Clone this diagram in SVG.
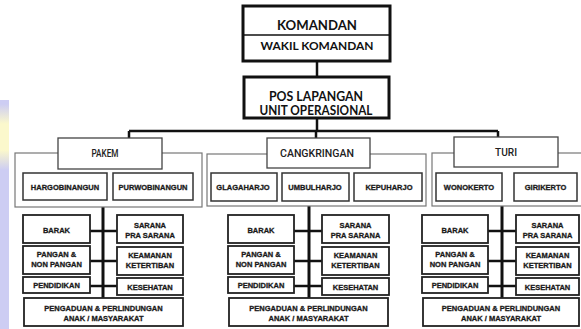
<svg xmlns="http://www.w3.org/2000/svg" width="581" height="329" viewBox="0 0 581 329">
<defs>
<linearGradient id="yel" x1="0" y1="0" x2="0" y2="1">
<stop offset="0" stop-color="#fbf8cc" stop-opacity="0"/>
<stop offset="0.3" stop-color="#fbf8cc"/>
<stop offset="0.7" stop-color="#fbf8cc"/>
<stop offset="1" stop-color="#fbf8cc" stop-opacity="0"/>
</linearGradient>
</defs>
<style>
.top{fill:#fff;stroke:#111;stroke-width:3}
.outer{fill:#fff;stroke:#777;stroke-width:1.2}
.grp{fill:#fff;stroke:#444;stroke-width:1.3}
.vil{fill:#fff;stroke:#333;stroke-width:1.5}
.box{fill:#fff;stroke:#222;stroke-width:1.8}
.t1{font-family:Lato,"Open Sans",sans-serif;font-weight:bold;fill:#111;text-anchor:middle}
.t2{font-family:Roboto,"Noto Sans",sans-serif;font-weight:500;font-size:10px;fill:#222;text-anchor:middle}
.t3{font-family:"Liberation Sans",Arial,sans-serif;font-weight:bold;font-size:7.5px;fill:#1a1a1a;stroke:#1a1a1a;stroke-width:0.3;text-anchor:middle}
.c{stroke:#111;stroke-width:2.5;fill:none}
.cb{stroke:#111;stroke-width:3;fill:none}
</style>
<rect width="581" height="329" fill="#fff"/>
<rect x="0" y="100" width="9" height="229" fill="#cdcdf3"/>
<rect x="0" y="104" width="9" height="66" fill="url(#yel)"/>

<g id="connectors">
<line class="c" x1="317" y1="61" x2="317" y2="77"/>
<line class="c" x1="317" y1="118" x2="317" y2="131"/>
<line class="c" x1="129" y1="131" x2="498" y2="131"/>
<line class="c" x1="129" y1="131" x2="129" y2="138"/>
<line class="c" x1="316" y1="131" x2="316" y2="138"/>
<line class="c" x1="498" y1="131" x2="498" y2="137"/>
<line class="cb" x1="103" y1="207" x2="103" y2="298"/>
<line class="c" x1="90" y1="231" x2="117" y2="231"/>
<line class="c" x1="90" y1="261" x2="117" y2="261"/>
<line class="c" x1="90" y1="286" x2="117" y2="286"/>
<line class="cb" x1="309" y1="206" x2="309" y2="298"/>
<line class="c" x1="294" y1="231" x2="322" y2="231"/>
<line class="c" x1="294" y1="261" x2="322" y2="261"/>
<line class="c" x1="294" y1="286" x2="322" y2="286"/>
<line class="cb" x1="502" y1="206" x2="502" y2="298"/>
<line class="c" x1="488" y1="231" x2="516" y2="231"/>
<line class="c" x1="488" y1="261" x2="516" y2="261"/>
<line class="c" x1="488" y1="286" x2="516" y2="286"/>
</g>

<g id="komandan">
<rect class="top" x="243" y="6" width="147" height="55"/>
<line x1="243" y1="35" x2="390" y2="35" stroke="#111" stroke-width="1.5"/>
<text class="t1" x="317" y="30" font-size="13" textLength="80" lengthAdjust="spacingAndGlyphs">KOMANDAN</text>
<text class="t1" x="317" y="50" font-size="11.5" textLength="113" lengthAdjust="spacingAndGlyphs">WAKIL KOMANDAN</text>
</g>

<g id="pos-lapangan">
<rect class="top" x="244" y="77" width="145" height="41"/>
<text class="t1" x="316" y="101" font-size="12.5" textLength="94" lengthAdjust="spacingAndGlyphs">POS LAPANGAN</text>
<text class="t1" x="316" y="115" font-size="12.5" textLength="113" lengthAdjust="spacingAndGlyphs">UNIT OPERASIONAL</text>
</g>

<!-- PAKEM column -->
<g id="pakem">
<rect class="outer" x="15" y="153" width="187" height="54"/>
<rect class="grp" x="58" y="138" width="104" height="31"/>
<text class="t2" x="105" y="157" textLength="27" lengthAdjust="spacingAndGlyphs">PAKEM</text>
</g>
<g id="hargobinangun">
<rect class="vil" x="23" y="173" width="84" height="27"/>
<text class="t3" x="65" y="190">HARGOBINANGUN</text>
</g>
<g id="purwobinangun">
<rect class="vil" x="113" y="173" width="80" height="27"/>
<text class="t3" x="153" y="190">PURWOBINANGUN</text>
</g>
<g id="pakem-barak"><rect class="box" x="23" y="215" width="67" height="28"/><text class="t3" x="56.5" y="233">BARAK</text></g>
<g id="pakem-sarana"><rect class="box" x="117" y="215" width="66" height="28"/><text class="t3" x="150" y="228">SARANA</text><text class="t3" x="150" y="238">PRA SARANA</text></g>
<g id="pakem-pangan"><rect class="box" x="23" y="246" width="67" height="28"/><text class="t3" x="56.5" y="257">PANGAN &amp;</text><text class="t3" x="56.5" y="267">NON PANGAN</text></g>
<g id="pakem-keamanan"><rect class="box" x="117" y="247" width="66" height="28"/><text class="t3" x="150" y="258">KEAMANAN</text><text class="t3" x="150" y="268">KETERTIBAN</text></g>
<g id="pakem-pendidikan"><rect class="box" x="23" y="277" width="67" height="16"/><text class="t3" x="56.5" y="288">PENDIDIKAN</text></g>
<g id="pakem-kesehatan"><rect class="box" x="117" y="278" width="66" height="17"/><text class="t3" x="150" y="290">KESEHATAN</text></g>
<g id="pakem-pengaduan"><rect class="box" x="24" y="298" width="159" height="28"/><text class="t3" x="103.5" y="311">PENGADUAN &amp; PERLINDUNGAN</text><text class="t3" x="103.5" y="321">ANAK / MASYARAKAT</text></g>

<!-- CANGKRINGAN column -->
<g id="cangkringan">
<rect class="outer" x="207" y="154" width="219" height="52"/>
<rect class="grp" x="267" y="138" width="103" height="30"/>
<text class="t2" x="317" y="157" textLength="74" lengthAdjust="spacingAndGlyphs">CANGKRINGAN</text>
</g>
<g id="glagaharjo"><rect class="vil" x="211" y="173" width="66" height="28"/><text class="t3" x="243" y="190">GLAGAHARJO</text></g>
<g id="umbulharjo"><rect class="vil" x="282" y="173" width="67" height="28"/><text class="t3" x="315" y="190">UMBULHARJO</text></g>
<g id="kepuharjo"><rect class="vil" x="354" y="173" width="68" height="28"/><text class="t3" x="389" y="190">KEPUHARJO</text></g>
<g id="cangkringan-barak"><rect class="box" x="228" y="215" width="66" height="28"/><text class="t3" x="261" y="233">BARAK</text></g>
<g id="cangkringan-sarana"><rect class="box" x="322" y="215" width="67" height="28"/><text class="t3" x="355.5" y="228">SARANA</text><text class="t3" x="355.5" y="238">PRA SARANA</text></g>
<g id="cangkringan-pangan"><rect class="box" x="228" y="246" width="66" height="28"/><text class="t3" x="261" y="257">PANGAN &amp;</text><text class="t3" x="261" y="267">NON PANGAN</text></g>
<g id="cangkringan-keamanan"><rect class="box" x="322" y="247" width="67" height="28"/><text class="t3" x="355.5" y="258">KEAMANAN</text><text class="t3" x="355.5" y="268">KETERTIBAN</text></g>
<g id="cangkringan-pendidikan"><rect class="box" x="228" y="277" width="66" height="16"/><text class="t3" x="261" y="288">PENDIDIKAN</text></g>
<g id="cangkringan-kesehatan"><rect class="box" x="322" y="278" width="67" height="17"/><text class="t3" x="355.5" y="290">KESEHATAN</text></g>
<g id="cangkringan-pengaduan"><rect class="box" x="229" y="298" width="159" height="28"/><text class="t3" x="308.5" y="311">PENGADUAN &amp; PERLINDUNGAN</text><text class="t3" x="308.5" y="321">ANAK / MASYARAKAT</text></g>

<!-- TURI column -->
<g id="turi">
<rect class="outer" x="432" y="153" width="160" height="53"/>
<rect class="grp" x="454" y="137" width="104" height="30"/>
<text class="t2" x="506" y="156" textLength="22" lengthAdjust="spacingAndGlyphs">TURI</text>
</g>
<g id="wonokerto"><rect class="vil" x="436" y="173" width="66" height="28"/><text class="t3" x="469" y="190">WONOKERTO</text></g>
<g id="girikerto"><rect class="vil" x="514" y="173" width="63" height="28"/><text class="t3" x="545.5" y="190">GIRIKERTO</text></g>
<g id="turi-barak"><rect class="box" x="422" y="215" width="66" height="28"/><text class="t3" x="455" y="233">BARAK</text></g>
<g id="turi-sarana"><rect class="box" x="516" y="215" width="63" height="28"/><text class="t3" x="547.5" y="228">SARANA</text><text class="t3" x="547.5" y="238">PRA SARANA</text></g>
<g id="turi-pangan"><rect class="box" x="422" y="246" width="66" height="28"/><text class="t3" x="455" y="257">PANGAN &amp;</text><text class="t3" x="455" y="267">NON PANGAN</text></g>
<g id="turi-keamanan"><rect class="box" x="516" y="247" width="63" height="28"/><text class="t3" x="547.5" y="258">KEAMANAN</text><text class="t3" x="547.5" y="268">KETERTIBAN</text></g>
<g id="turi-pendidikan"><rect class="box" x="422" y="277" width="66" height="16"/><text class="t3" x="455" y="288">PENDIDIKAN</text></g>
<g id="turi-kesehatan"><rect class="box" x="516" y="278" width="63" height="17"/><text class="t3" x="547.5" y="290">KESEHATAN</text></g>
<g id="turi-pengaduan"><rect class="box" x="423" y="298" width="156" height="28"/><text class="t3" x="501" y="311">PENGADUAN &amp; PERLINDUNGAN</text><text class="t3" x="501" y="321">ANAK / MASYARAKAT</text></g>
</svg>
